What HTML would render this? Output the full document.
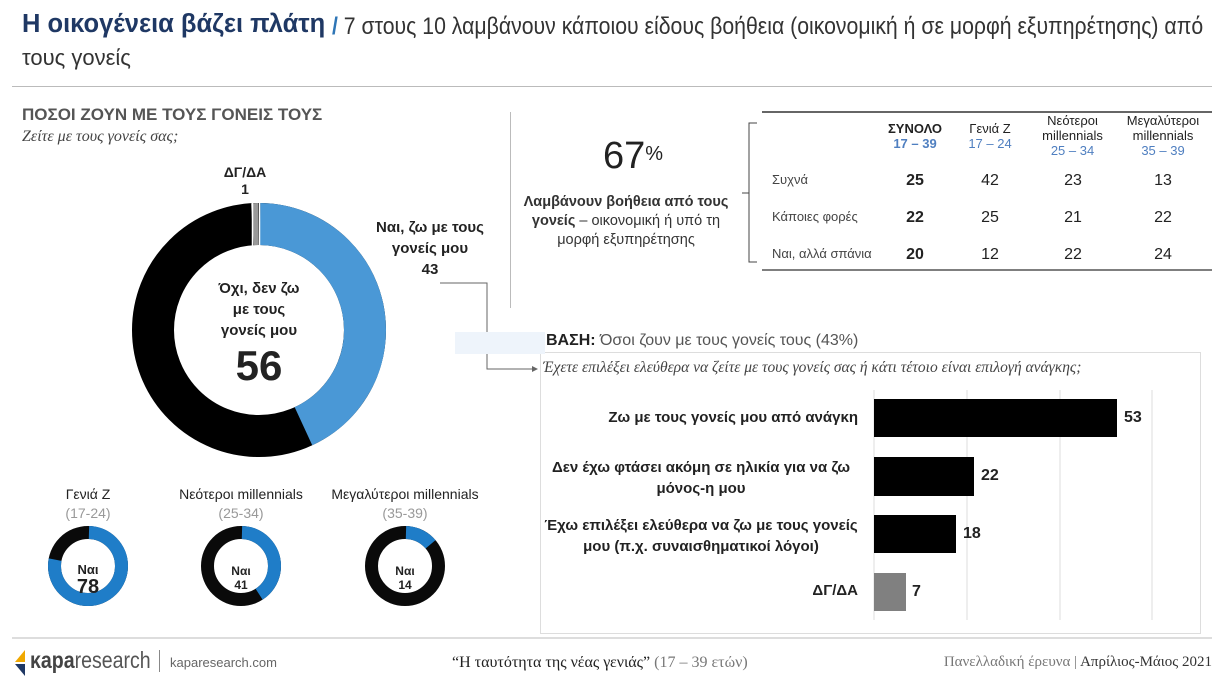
<!DOCTYPE html>
<html><head><meta charset="utf-8"><style>
body{margin:0;width:1222px;height:679px;background:#fff;position:relative;overflow:hidden;font-family:"Liberation Sans",sans-serif;color:#222}
.a{position:absolute;white-space:nowrap}
.c{text-align:center;white-space:normal}
</style></head><body>
<div class="a" style="left:22px;top:10px;font-size:25.5px;color:#1f3864;font-weight:bold">Η οικογένεια βάζει πλάτη</div>
<div class="a" style="left:332px;top:13px;font-size:24px;color:#333;transform:scaleX(0.885);transform-origin:left top"><span style="color:#2e75b6;font-weight:bold">/</span> 7 στους 10 λαμβάνουν κάποιου είδους βοήθεια (οικονομική ή σε μορφή εξυπηρέτησης) από</div>
<div class="a" style="left:22px;top:45px;font-size:22px;color:#333">τους γονείς</div>
<div class="a" style="left:12px;top:86px;width:1200px;height:1px;background:#bbb"></div>
<div class="a" style="left:22px;top:105px;font-size:17px;font-weight:bold;color:#555">ΠΟΣΟΙ ΖΟΥΝ ΜΕ ΤΟΥΣ ΓΟΝΕΙΣ ΤΟΥΣ</div>
<div class="a" style="left:22px;top:128px;font-size:16px;font-style:italic;color:#444;font-family:'Liberation Serif',serif">Ζείτε με τους γονείς σας;</div>
<div class="a" style="left:510px;top:112px;width:1px;height:196px;background:#bbb"></div>

<svg class="a" style="left:0;top:0" width="1222" height="679">
<g transform="rotate(-90 259 330)">
<circle cx="259" cy="330" r="106" fill="none" stroke="#000" stroke-width="42"/>
<circle cx="259" cy="330" r="106" fill="none" stroke="#4a98d6" stroke-width="42" stroke-dasharray="286 1000" stroke-dashoffset="-1"/>
<circle cx="259" cy="330" r="106" fill="none" stroke="#999" stroke-width="42" stroke-dasharray="6 1000" stroke-dashoffset="-659"/>
</g>
<line x1="259.5" y1="203" x2="259.5" y2="247" stroke="#fff" stroke-width="1.5"/>
<line x1="252.5" y1="203" x2="252.5" y2="247" stroke="#fff" stroke-width="1.5"/>
<g fill="none">
<g transform="rotate(-90 88 566)"><circle cx="88" cy="566" r="33.5" stroke="#0a0a0a" stroke-width="13"/><circle cx="88" cy="566" r="33.5" stroke="#1f7dc8" stroke-width="13" stroke-dasharray="163 300" stroke-dashoffset="-1"/></g>
<g transform="rotate(-90 241 566)"><circle cx="241" cy="566" r="33.5" stroke="#0a0a0a" stroke-width="13"/><circle cx="241" cy="566" r="33.5" stroke="#1f7dc8" stroke-width="13" stroke-dasharray="85 300" stroke-dashoffset="-1"/></g>
<g transform="rotate(-90 405 566)"><circle cx="405" cy="566" r="33.5" stroke="#0a0a0a" stroke-width="13"/><circle cx="405" cy="566" r="33.5" stroke="#1f7dc8" stroke-width="13" stroke-dasharray="28 300" stroke-dashoffset="-1"/></g>
</g>
<polyline points="440,283 487,283 487,369 532,369" fill="none" stroke="#666" stroke-width="1"/>
<polygon points="532,366 538,369 532,372" fill="#666"/>
<path d="M757,123 L749,123 L749,262 L757,262 M749,193 L742,193" fill="none" stroke="#444"/>
<line x1="762" y1="112" x2="1212" y2="112" stroke="#333" stroke-width="1.5"/>
<line x1="762" y1="270" x2="1212" y2="270" stroke="#555" stroke-width="1.5"/>
<rect x="540.5" y="352.5" width="660" height="281" fill="none" stroke="#ddd"/>
<g stroke="#ddd"><line x1="967" y1="390" x2="967" y2="620"/><line x1="1060" y1="390" x2="1060" y2="620"/><line x1="1152" y1="390" x2="1152" y2="620"/><line x1="874" y1="390" x2="874" y2="620"/></g>
<rect x="874" y="399" width="243" height="38" fill="#000"/>
<rect x="874" y="457" width="100" height="39" fill="#000"/>
<rect x="874" y="515" width="82" height="38" fill="#000"/>
<rect x="874" y="573" width="32" height="38" fill="#808080"/>
<line x1="12" y1="638" x2="1212" y2="638" stroke="#bbb"/>
<path d="M15,662 L25,650 L25,662Z" fill="#f0a800"/><path d="M15,664 L25,664 L25,676Z" fill="#1f3864"/>
</svg>

<div class="a c" style="left:215px;top:164px;width:60px;font-size:14px;font-weight:bold;line-height:17px">ΔΓ/ΔΑ<br>1</div>
<div class="a c" style="left:360px;top:217px;width:140px;font-size:15px;font-weight:bold;line-height:21px;color:#222">Ναι, ζω με τους<br>γονείς μου<br>43</div>
<div class="a c" style="left:199px;top:278px;width:120px;font-size:15px;font-weight:bold;line-height:21px">Όχι, δεν ζω<br>με τους<br>γονείς μου</div>
<div class="a c" style="left:199px;top:342px;width:120px;font-size:42px;font-weight:bold">56</div>

<div class="a c" style="left:28px;top:485px;width:120px;font-size:14px;line-height:19px">Γενιά Ζ<br><span style="color:#999">(17-24)</span></div>
<div class="a c" style="left:166px;top:485px;width:150px;font-size:14px;line-height:19px">Νεότεροι millennials<br><span style="color:#999">(25-34)</span></div>
<div class="a c" style="left:315px;top:485px;width:180px;font-size:14px;line-height:19px">Μεγαλύτεροι millennials<br><span style="color:#999">(35-39)</span></div>
<div class="a c" style="left:58px;top:562px;width:60px;font-size:13px;font-weight:bold;line-height:15px">Ναι<div style="font-size:20px;line-height:20px">78</div></div>
<div class="a c" style="left:211px;top:564px;width:60px;font-size:12px;font-weight:bold;line-height:14px">Ναι<br>41</div>
<div class="a c" style="left:375px;top:564px;width:60px;font-size:12px;font-weight:bold;line-height:14px">Ναι<br>14</div>

<div class="a" style="left:603px;top:135px;font-size:38px">67<span style="font-size:20px;vertical-align:top;position:relative;top:8px">%</span></div>
<div class="a c" style="left:512px;top:193px;width:228px;font-size:14.5px;line-height:19px;color:#333"><b>Λαμβάνουν βοήθεια από τους γονείς</b> – οικονομική ή υπό τη μορφή εξυπηρέτησης</div>

<div class="a c" style="left:870px;top:121px;width:90px;font-size:13px;line-height:15px"><b>ΣΥΝΟΛΟ</b><br><b style="color:#4f7fc0">17 – 39</b></div>
<div class="a c" style="left:955px;top:121px;width:70px;font-size:13px;line-height:15px">Γενιά Ζ<br><span style="color:#4f7fc0">17 – 24</span></div>
<div class="a c" style="left:1030px;top:113px;width:85px;font-size:13px;line-height:15px">Νεότεροι<br>millennials<br><span style="color:#4f7fc0">25 – 34</span></div>
<div class="a c" style="left:1118px;top:113px;width:90px;font-size:13px;line-height:15px">Μεγαλύτεροι<br>millennials<br><span style="color:#4f7fc0">35 – 39</span></div>
<div class="a" style="left:772px;top:172px;font-size:13px;color:#444">Συχνά</div>
<div class="a" style="left:772px;top:209px;font-size:13px;color:#444">Κάποιες φορές</div>
<div class="a" style="left:772px;top:246px;font-size:13px;color:#444">Ναι, αλλά σπάνια</div>
<div class="a c" style="left:880px;top:162px;width:70px;font-size:16px;line-height:37px"><b>25</b><br><b>22</b><br><b>20</b></div>
<div class="a c" style="left:955px;top:162px;width:70px;font-size:16px;line-height:37px">42<br>25<br>12</div>
<div class="a c" style="left:1038px;top:162px;width:70px;font-size:16px;line-height:37px">23<br>21<br>22</div>
<div class="a c" style="left:1128px;top:162px;width:70px;font-size:16px;line-height:37px">13<br>22<br>24</div>

<div class="a" style="left:455px;top:332px;width:90px;height:22px;background:#eef4fb"></div>
<div class="a" style="left:546px;top:332px;font-size:16px;color:#555"><b style="color:#222">ΒΑΣΗ:</b> Όσοι ζουν με τους γονείς τους (43%)</div>
<div class="a" style="left:543px;top:359px;font-size:15.5px;font-style:italic;color:#444;font-family:'Liberation Serif',serif">Έχετε επιλέξει ελεύθερα να ζείτε με τους γονείς σας ή κάτι τέτοιο είναι επιλογή ανάγκης;</div>
<div class="a" style="right:364px;top:409px;font-size:15px;font-weight:bold;text-align:right">Ζω με τους γονείς μου από ανάγκη</div>
<div class="a c" style="left:545px;top:457px;width:312px;font-size:15px;font-weight:bold;line-height:21px">Δεν έχω φτάσει ακόμη σε ηλικία για να ζω<br>μόνος-η μου</div>
<div class="a c" style="left:540px;top:515px;width:322px;font-size:15px;font-weight:bold;line-height:21px;white-space:nowrap">Έχω επιλέξει ελεύθερα να ζω με τους γονείς<br>μου (π.χ. συναισθηματικοί λόγοι)</div>
<div class="a" style="right:364px;top:582px;font-size:15px;font-weight:bold">ΔΓ/ΔΑ</div>
<div class="a" style="left:1124px;top:409px;font-size:16px;font-weight:bold">53</div>
<div class="a" style="left:981px;top:467px;font-size:16px;font-weight:bold">22</div>
<div class="a" style="left:963px;top:525px;font-size:16px;font-weight:bold">18</div>
<div class="a" style="left:912px;top:583px;font-size:16px;font-weight:bold">7</div>

<div class="a" style="left:30px;top:647px;font-size:23px;color:#555;transform:scaleX(0.85);transform-origin:left top"><b style="color:#444">κapa</b>research</div>
<div class="a" style="left:159px;top:650px;width:1px;height:22px;background:#888"></div>
<div class="a" style="left:170px;top:655px;font-size:13px;color:#666">kaparesearch.com</div>
<div class="a" style="left:452px;top:654px;font-size:16px;font-family:'Liberation Serif',serif">“Η ταυτότητα της νέας γενιάς” <span style="color:#777">(17 – 39 ετών)</span></div>
<div class="a" style="right:10px;top:654px;font-size:15px;font-family:'Liberation Serif',serif;color:#777">Πανελλαδική έρευνα | <span style="color:#333">Απρίλιος-Μάιος 2021</span></div>
</body></html>
